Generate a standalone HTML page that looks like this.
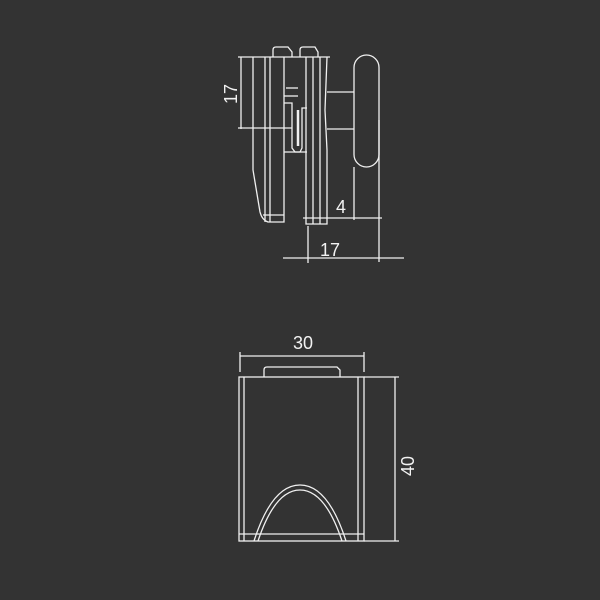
<!DOCTYPE html>
<html><head><meta charset="utf-8"><style>
html,body{margin:0;padding:0;background:#333333;}
svg{display:block}
text{font-family:"Liberation Sans",sans-serif;fill:#f2f2f2;font-size:18px}
</style></head><body>
<svg width="600" height="600" viewBox="0 0 600 600">
<rect width="600" height="600" fill="#333333"/>
<g stroke="#f0f0f0" stroke-width="1.3" fill="none">
<!-- top view -->
<line x1="238" y1="57" x2="330" y2="57"/>
<line x1="241" y1="57" x2="241" y2="129"/>
<line x1="238" y1="128" x2="292" y2="128"/>
<path d="M273 57 V50 Q273 47 276 47 H288 L292 52 V57"/>
<path d="M300 57 V50 Q300 47 303 47 H315 L318 52 V57"/>
<!-- left piece -->
<path d="M253 57 V170 L260 212 Q262 220 268 222 H284 V57"/>
<line x1="265" y1="57" x2="265" y2="222"/>
<line x1="270" y1="57" x2="270" y2="222"/>
<line x1="263" y1="215" x2="284" y2="215"/>
<!-- center bracket -->
<path d="M284 103 H292 V148 L295 152 H300 L302 148 V108 H307"/>
<path d="M284 152 H307"/>
<line x1="298" y1="110" x2="298" y2="146" stroke-width="2.5"/>
<line x1="284" y1="96" x2="298" y2="96"/>
<line x1="286" y1="88" x2="298" y2="88"/>
<!-- right piece -->
<path d="M306 57 V224 H327 V150 L325 110 L327 57"/>
<line x1="313" y1="57" x2="313" y2="224"/>
<line x1="320" y1="57" x2="320" y2="224"/>
<!-- shaft + knob -->
<line x1="327" y1="92" x2="354" y2="92"/>
<line x1="327" y1="129" x2="354" y2="129"/>
<rect x="354" y="55" width="25" height="112" rx="12.5"/>
<line x1="354" y1="167" x2="354" y2="220"/>
<line x1="379" y1="120" x2="379" y2="262"/>
<line x1="303" y1="218" x2="382" y2="218"/>
<line x1="308" y1="226" x2="308" y2="263"/>
<line x1="283" y1="258" x2="404" y2="258"/>
<!-- bottom view -->
<line x1="240" y1="352" x2="240" y2="372"/>
<line x1="364" y1="352" x2="364" y2="372"/>
<line x1="240" y1="356" x2="364" y2="356"/>
<path d="M264 377 V370 Q264 367 267 367 H337 L340 370 V377"/>
<rect x="239" y="377" width="125" height="164"/>
<line x1="244" y1="377" x2="244" y2="541"/>
<line x1="358" y1="377" x2="358" y2="541"/>
<line x1="239" y1="534" x2="364" y2="534"/>
<path d="M254 541 Q272 485 300 485 Q328 485 346 541"/>
<path d="M258 541 Q275 490 300 490 Q325 490 342 541"/>
<line x1="364" y1="377" x2="399" y2="377"/>
<line x1="364" y1="541" x2="399" y2="541"/>
<line x1="395" y1="377" x2="395" y2="541"/>
</g>
<text x="330" y="256" text-anchor="middle">17</text>
<text x="341" y="213" text-anchor="middle">4</text>
<text transform="translate(237,94) rotate(-90)" text-anchor="middle">17</text>
<text x="303" y="349" text-anchor="middle">30</text>
<text transform="translate(414,466) rotate(-90)" text-anchor="middle">40</text>
</svg>
</body></html>
